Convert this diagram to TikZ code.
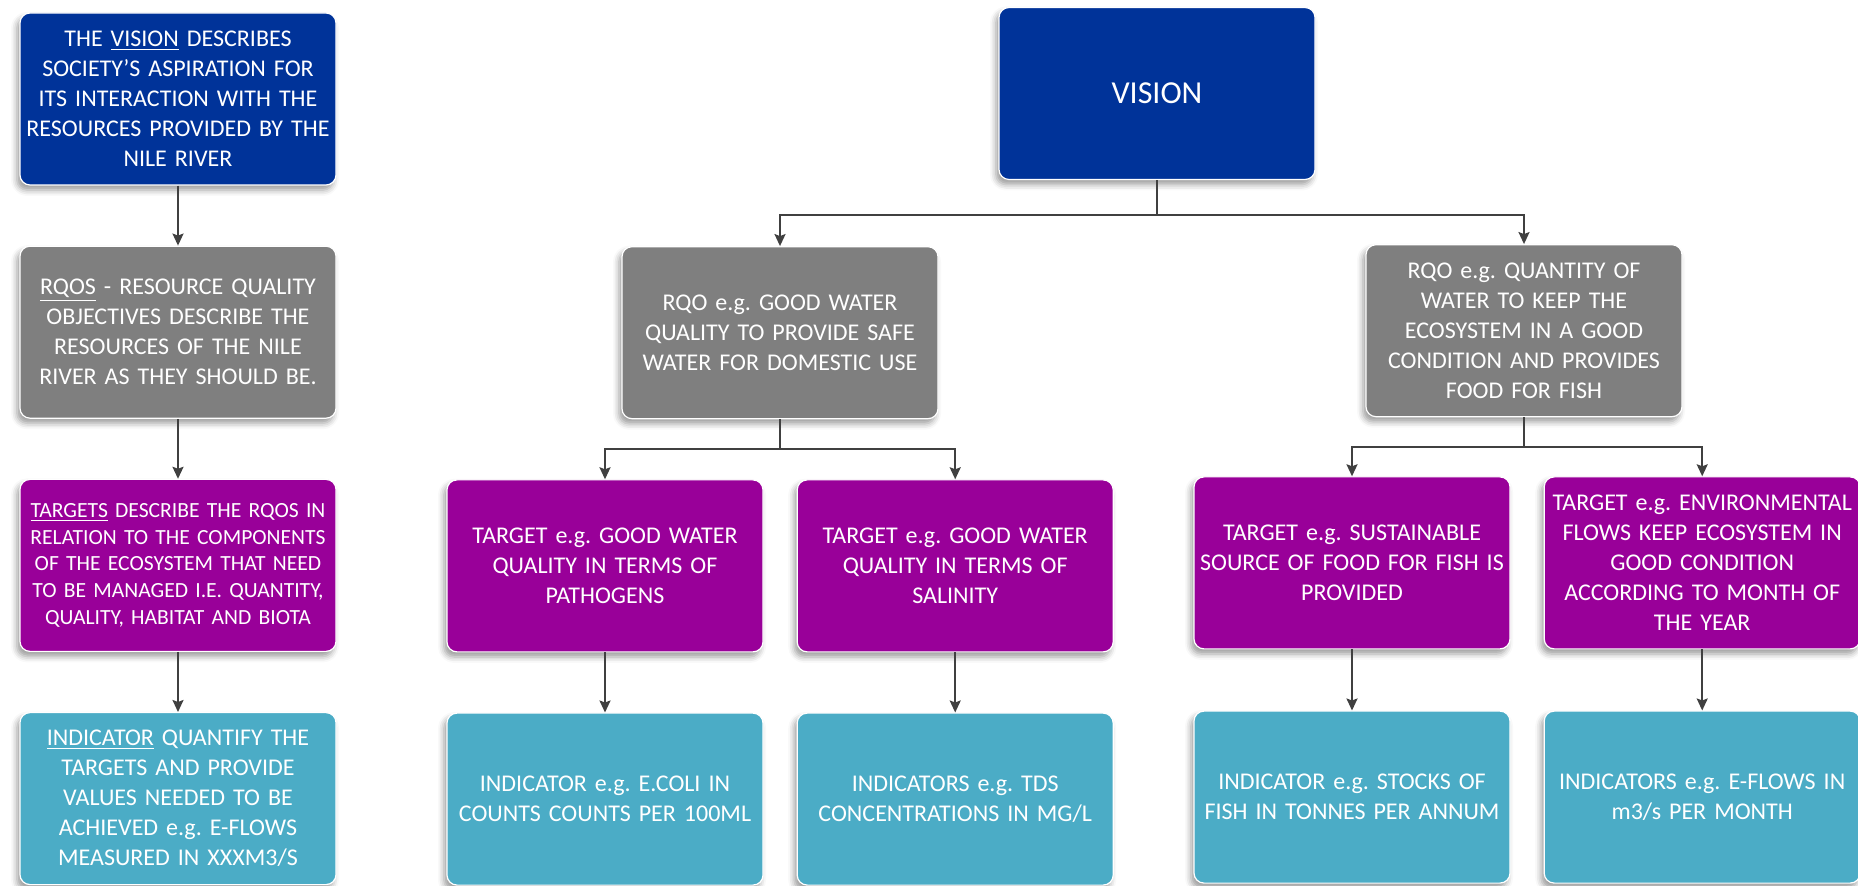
\documentclass[tikz,border=0pt]{standalone}
\usepackage{fontspec}
\setmainfont{Carlito}
\usetikzlibrary{positioning, arrows.meta, shadows.blur}
\definecolor{visionblue}{HTML}{003399}
\definecolor{rqogray}{HTML}{7F7F7F}
\definecolor{targetpurple}{HTML}{990099}
\definecolor{indteal}{HTML}{4BACC6}
\definecolor{linkgray}{HTML}{404040}
\tikzset{
  ->,
  >={Stealth[length=6pt, width=5.5pt, inset=1pt]},
  node distance=30pt,
  every box/.style={rounded corners=5pt, draw=white, line width=0.6pt, text=white,
    text width=154pt, inner sep=2pt, minimum height=86pt, align=center,
    font=\fontsize{12}{15}\selectfont\frenchspacing,
    blur shadow={shadow xshift=-1.5pt, shadow yshift=-2.5pt, shadow blur radius=3pt, shadow opacity=40}},
  visionbox/.style={every box, fill=visionblue},
  rqobox/.style={every box, fill=rqogray},
  targetbox/.style={every box, fill=targetpurple},
  indbox/.style={every box, fill=indteal},
  every path/.append style={color=linkgray, line width=1pt},
}

\begin{document}
\begin{tikzpicture}
      \useasboundingbox (0,0) rectangle (929pt,-443pt);
      \node[visionbox] (l1) at (89pt,-49.5pt) {THE \underline{VISION} DESCRIBES\\SOCIETY’S ASPIRATION FOR\\ITS INTERACTION WITH THE\\RESOURCES PROVIDED BY THE\\NILE RIVER};
      \node[rqobox, below=of l1] (l2) {\underline{RQOS} - RESOURCE QUALITY\\OBJECTIVES DESCRIBE THE\\RESOURCES OF THE NILE\\RIVER AS THEY SHOULD BE.};
      \node[targetbox, below=of l2, font=\fontsize{10.8}{13.4}\selectfont\frenchspacing] (l3) {\underline{TARGETS} DESCRIBE THE RQOS IN\\RELATION TO THE COMPONENTS\\OF THE ECOSYSTEM THAT NEED\\TO BE MANAGED I.E. QUANTITY,\\QUALITY, HABITAT AND BIOTA};
      \node[indbox, below=of l3] (l4) {\underline{INDICATOR} QUANTIFY THE\\TARGETS AND PROVIDE\\VALUES NEEDED TO BE\\ACHIEVED e.g. E-FLOWS\\MEASURED IN XXXM3/S};
      \node[visionbox, font=\fontsize{16}{19}\selectfont] (vision) at (578.5pt,-46.75pt) {VISION};
      \node[rqobox, below=33pt of vision, xshift=-188.5pt] (rqo1) {RQO e.g. GOOD WATER\\QUALITY TO PROVIDE SAFE\\WATER FOR DOMESTIC USE};
      \node[rqobox, below=32pt of vision, xshift=183.5pt] (rqo2) {RQO e.g. QUANTITY OF\\WATER TO KEEP THE\\ECOSYSTEM IN A GOOD\\CONDITION AND PROVIDES\\FOOD FOR FISH};
      \node[targetbox, below=of rqo1, xshift=-87.5pt] (t1) {TARGET e.g. GOOD WATER\\QUALITY IN TERMS OF\\PATHOGENS};
      \node[targetbox, right=16.5pt of t1] (t2) {TARGET e.g. GOOD WATER\\QUALITY IN TERMS OF\\SALINITY};
      \node[targetbox, below=29.5pt of rqo2, xshift=-86pt] (t3) {TARGET e.g. SUSTAINABLE\\SOURCE OF FOOD FOR FISH IS\\PROVIDED};
      \node[targetbox, right=16.5pt of t3] (t4) {TARGET e.g. ENVIRONMENTAL\\FLOWS KEEP ECOSYSTEM IN\\GOOD CONDITION\\ACCORDING TO MONTH OF\\THE YEAR};
      \node[indbox, below=of t1] (i1) {INDICATOR e.g. E.COLI IN\\COUNTS COUNTS PER 100ML};
      \node[indbox, below=of t2] (i2) {INDICATORS e.g. TDS\\CONCENTRATIONS IN MG/L};
      \node[indbox, below=30.5pt of t3] (i3) {INDICATOR e.g. STOCKS OF\\FISH IN TONNES PER ANNUM};
      \node[indbox, below=30.5pt of t4] (i4) {INDICATORS e.g. E-FLOWS IN\\m3/s PER MONTH};
      \draw (l1) edge (l2);
      \draw (l2) edge (l3);
      \draw (l3) edge (l4);
      \draw (vision.south) -- ++(0,-17.5pt) -| (rqo1.north);
      \draw (vision.south) -- ++(0,-17.5pt) -| (rqo2.north);
      \draw (rqo1.south) -- ++(0,-15pt) -| (t1.north);
      \draw (rqo1.south) -- ++(0,-15pt) -| (t2.north);
      \draw (rqo2.south) -- ++(0,-15pt) -| (t3.north);
      \draw (rqo2.south) -- ++(0,-15pt) -| (t4.north);
      \draw (t1) edge (i1);
      \draw (t2) edge (i2);
      \draw (t3) edge (i3);
      \draw (t4) edge (i4);
    \end{tikzpicture}
\end{document}
